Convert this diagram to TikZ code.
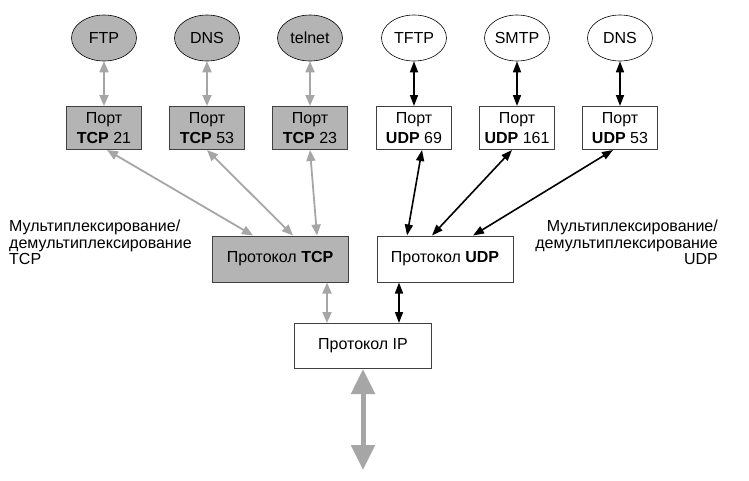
\documentclass[tikz,border=0pt]{standalone}
\usepackage{fontspec}
\setmainfont{Liberation Sans}
\usetikzlibrary{arrows.meta,shapes.geometric}
\definecolor{lg}{HTML}{A6A6A6}
\definecolor{bg}{HTML}{B4B4B4}
\begin{document}
\begin{tikzpicture}[x=1pt,y=-1pt,
  font=\fontsize{16}{18}\selectfont,
  app/.style={ellipse,draw=black,line width=0.6pt,minimum width=65pt,minimum height=46pt,inner sep=0pt},
  gapp/.style={app,fill=bg},
  port/.style={draw=black!75,line width=1pt,minimum width=75pt,minimum height=43pt,inner sep=0pt,align=center,font=\fontsize{16}{19.5}\selectfont},
  gport/.style={port,fill=bg},
  prot/.style={draw=black!75,line width=1pt,minimum width=136pt,minimum height=46pt,inner sep=0pt},
  garr/.style={draw=lg,line width=1.8pt,{Triangle[length=11pt,width=9pt]}-{Triangle[length=11pt,width=9pt]}},
  barr/.style={draw=black,line width=1.6pt,{Triangle[length=11pt,width=8pt]}-{Triangle[length=11pt,width=8pt]}},
  lbl/.style={align=left,inner sep=0pt,font=\fontsize{16}{16.5}\selectfont}
]
\useasboundingbox (0,0) rectangle (749,480);
% applications
\node[gapp] (ftp) at (104,38) {FTP};
\node[gapp] (dns1) at (207,38) {DNS};
\node[gapp] (tel) at (310,38) {telnet};
\node[app] (tftp) at (414,38) {TFTP};
\node[app] (smtp) at (517,38) {SMTP};
\node[app] (dns2) at (620,38) {DNS};
% ports
\node[gport] (p21) at (104,128) {Порт\\\textbf{TCP} 21};
\node[gport] (p53t) at (207,128) {Порт\\\textbf{TCP} 53};
\node[gport] (p23) at (310,128) {Порт\\\textbf{TCP} 23};
\node[port] (p69) at (414,128) {Порт\\\textbf{UDP} 69};
\node[port] (p161) at (517,128) {Порт\\\textbf{UDP} 161};
\node[port] (p53u) at (620,128) {Порт\\\textbf{UDP} 53};
% protocols
\node[prot,fill=bg] (tcp) at (280,259) {Протокол \textbf{TCP}};
\node[prot] (udp) at (445,259) {Протокол \textbf{UDP}};
\node[prot,minimum width=137pt,minimum height=45pt] (ip) at (363,346) {Протокол IP};
\coordinate (net) at (363,470);
% labels
\node[lbl,anchor=north west] (ltcp) at (9,220) {Мультиплексирование/\\демультиплексирование\\TCP};
\node[lbl,align=right,anchor=north east] (ludp) at (718,220) {Мультиплексирование/\\демультиплексирование\\UDP};
% arrows app-port
\draw[garr] (ftp.south) -- (p21.north);
\draw[garr] (dns1.south) -- (p53t.north);
\draw[garr] (tel.south) -- (p23.north);
\draw[barr] (tftp.south) -- (p69.north);
\draw[barr] (smtp.south) -- (p161.north);
\draw[barr] (dns2.south) -- (p53u.north);
% port-protocol
\draw[garr] ([xshift=3pt]p21.south) -- ([xshift=-27pt]tcp.north);
\draw[garr] (p53t.south) -- ([xshift=13pt]tcp.north);
\draw[garr] ([xshift=0pt]p23.south) -- ([xshift=37pt]tcp.north);
\draw[barr] ([xshift=8pt]p69.south) -- ([xshift=-38pt]udp.north);
\draw[barr] ([xshift=-5pt]p161.south) -- ([xshift=-13pt]udp.north);
\draw[barr] ([xshift=-7pt]p53u.south) -- ([xshift=28pt]udp.north);
% protocol-ip
\draw[garr] ([xshift=47pt]tcp.south) -- ([xshift=-36pt]ip.north);
\draw[barr] ([xshift=-46pt]udp.south) -- ([xshift=36pt]ip.north);
\draw[draw=lg,line width=5pt,{Triangle[length=25pt,width=23pt]}-{Triangle[length=25pt,width=23pt]}] (ip.south) -- (net);
\end{tikzpicture}
\end{document}
